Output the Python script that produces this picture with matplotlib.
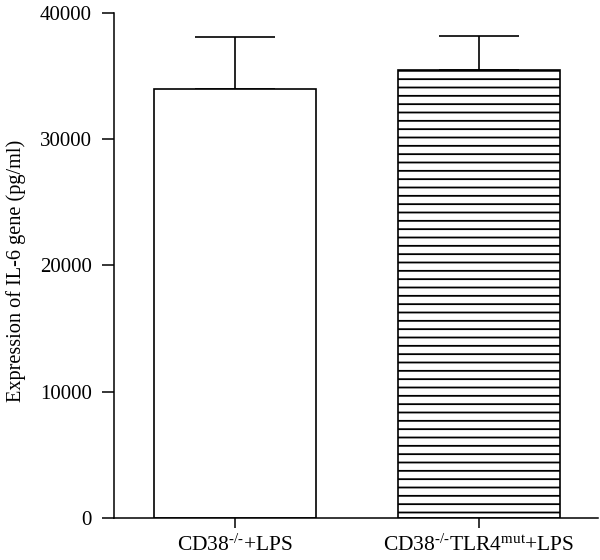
import numpy as np
import matplotlib
matplotlib.use("Agg")
import matplotlib.pyplot as plt

# data
groups = [r"CD38$^{\text{-/-}}$+LPS",
          r"CD38$^{\text{-/-}}$TLR4$^{\text{mut}}$+LPS"]
means = [33950, 35500]
errors = [4150, 2700]
yticks = [0, 10000, 20000, 30000, 40000]

plt.rcParams['font.family'] = ['Liberation Serif', 'DejaVu Serif']
plt.rcParams['mathtext.fontset'] = 'custom'
plt.rcParams['mathtext.rm'] = 'Liberation Serif'
plt.rcParams['mathtext.it'] = 'Liberation Serif:italic'
plt.rcParams['hatch.linewidth'] = 1.3
plt.rcParams['hatch.color'] = 'black'

fig = plt.figure(figsize=(6, 5.6), dpi=100)
ax = fig.add_axes([0.19, 0.075, 0.8067, 0.9018])

x = np.arange(len(groups))
hatches = ['', '--']
for i in range(len(groups)):
    ax.bar(x[i], means[i], width=0.664, color='white', edgecolor='black',
           linewidth=1.2, hatch=hatches[i], zorder=2)
    ax.errorbar(x[i], means[i], yerr=[[0], [errors[i]]], color='black',
                elinewidth=1.2, capsize=29, capthick=1.2, fmt='none', zorder=1)

ax.set_xlim(-0.496, 1.488)
ax.set_ylim(0, 40000)
ax.set_yticks(yticks)
ax.set_yticklabels([str(v) for v in yticks], fontsize=15)
ax.set_xticks(x)
ax.set_xticklabels(groups, fontsize=15.5)
ax.set_ylabel("Expression of IL-6 gene (pg/ml)", fontsize=14.6)
ax.yaxis.set_label_coords(-0.182, 0.489)

for s in ['top', 'right']:
    ax.spines[s].set_visible(False)
for s in ['left', 'bottom']:
    ax.spines[s].set_linewidth(1.1)
ax.tick_params(axis='y', length=9, width=1.1, pad=7)
ax.tick_params(axis='x', length=7, width=1.1, pad=5)

fig.savefig("out.png", dpi=100)
